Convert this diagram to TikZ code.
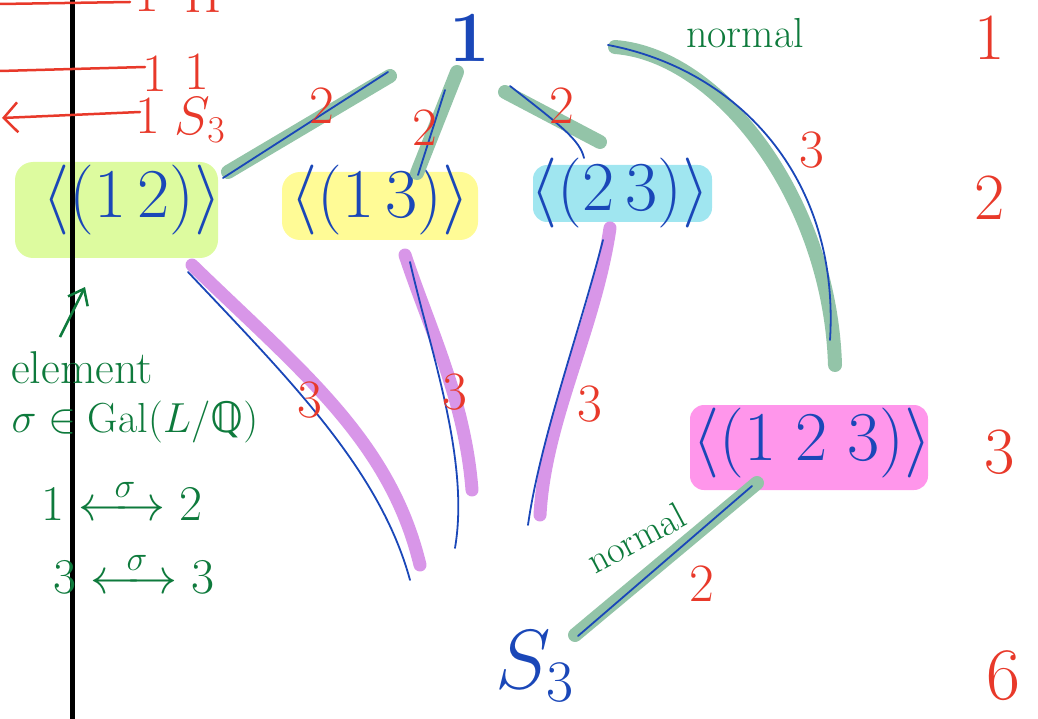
\RequirePackage{fix-cm}
\documentclass[tikz,border=0pt]{standalone}
\usepackage{mathtools}
\usepackage{fontspec}
\newfontfamily\djv{DejaVu Sans}
\usetikzlibrary{arrows.meta}
\definecolor{blueink}{HTML}{1A47B8}
\definecolor{redink}{HTML}{E8392A}
\definecolor{greenink}{HTML}{0E7A3C}
\definecolor{sage}{HTML}{93C4A8}
\definecolor{lilac}{HTML}{D896E8}
\definecolor{limehl}{HTML}{DDFB9F}
\definecolor{yellowhl}{HTML}{FFFB96}
\definecolor{cyanhl}{HTML}{A0E6F0}
\definecolor{pinkhl}{HTML}{FF96EB}
\tikzset{
  grp/.style={text=blueink, font=\fontsize{70}{72}\selectfont, inner sep=0pt},
  hl/.style={line width=14pt, line cap=round, draw=sage},
  hlp/.style={line width=13pt, line cap=round, draw=lilac},
  pen/.style={draw=blueink, line width=1.8pt, line cap=round},
  num/.style={text=redink, font=\fontsize{54}{56}\selectfont, inner sep=0pt},
  bignum/.style={text=redink, font=\fontsize{66}{68}\selectfont, inner sep=0pt},
  note/.style={text=greenink, font=\fontsize{42}{44}\selectfont, inner sep=0pt},
  redline/.style={draw=redink, line width=2.5pt, line cap=round},
  hilite/.style={rounded corners=18pt},
}
\begin{document}
\begin{tikzpicture}[x=1pt,y=-1pt]
\useasboundingbox (0,0) rectangle (1038,719);
% highlight blobs
\fill[limehl, hilite] (15,162) rectangle (218,258);
\fill[yellowhl, hilite] (282,172) rectangle (478,240);
\fill[cyanhl, rounded corners=14pt] (533,165) rectangle (712,222);
\fill[pinkhl, rounded corners=14pt] (690,405) rectangle (928,490);
% black separator
\coordinate (sepT) at (72,0); \coordinate (sepB) at (72,719);
\draw[line width=5pt] (sepT) -- (sepB);
% group nodes
\node[grp, font=\fontsize{72}{72}\selectfont\bfseries] (g1) at (470,38) {1};
\node[grp] (g12) at (132,200) {$\langle(1\,2)\rangle$};
\node[grp] (g13) at (380,200) {$\langle(1\,3)\rangle$};
\node[grp] (g23) at (620,193) {$\langle(2\,3)\rangle$};
\node[grp] (g123) at (812,443) {$\langle(1\;2\;3)\rangle$};
\node[grp, font=\fontsize{84}{86}\selectfont] (gS) at (535,666) {$S_3$};
% connector end points
\coordinate (a1) at (228,172); \coordinate (a2) at (390,76);
\coordinate (b1) at (417,173); \coordinate (b2) at (457,72);
\coordinate (c1) at (505,92);  \coordinate (c2) at (600,142);
\coordinate (d1) at (615,47);  \coordinate (d2) at (835,365);
\coordinate (e1) at (192,265); \coordinate (e2) at (420,565);
\coordinate (f1) at (405,255); \coordinate (f2) at (472,490);
\coordinate (h1) at (610,228); \coordinate (h2) at (540,515);
\coordinate (k1) at (575,635); \coordinate (k2) at (757,483);
% thick highlights
\draw[hl] (a1) -- (a2);
\draw[hl] (b1) -- (b2);
\draw[hl] (c1) -- (c2);
\draw[hl] (d1) .. controls (720,55) and (830,200) .. (d2);
\draw[hlp] (e1) .. controls (300,370) and (390,440) .. (e2);
\draw[hlp] (f1) .. controls (430,330) and (465,400) .. (f2);
\draw[hlp] (h1) .. controls (595,330) and (545,420) .. (h2);
\draw[hl] (k1) -- (k2);
% blue pen lines
\coordinate (pa1) at (223,178); \coordinate (pa2) at (388,72);
\coordinate (pb1) at (418,175); \coordinate (pb2) at (445,90);
\coordinate (pc1) at (510,86);  \coordinate (pc2) at (584,158);
\coordinate (pd1) at (608,45);  \coordinate (pd2) at (830,340);
\coordinate (pe1) at (188,272); \coordinate (pe2) at (410,580);
\coordinate (pf1) at (410,262); \coordinate (pf2) at (455,548);
\coordinate (ph1) at (603,240); \coordinate (ph2) at (528,525);
\coordinate (pk1) at (578,636); \coordinate (pk2) at (752,486);
\draw[pen] (pa1) -- (pa2);
\draw[pen] (pb1) -- (pb2);
\draw[pen] (pc1) .. controls (560,125) and (580,140) .. (pc2);
\draw[pen] (pd1) .. controls (740,70) and (840,180) .. (pd2);
\draw[pen] (pe1) .. controls (290,380) and (380,470) .. (pe2);
\draw[pen] (pf1) .. controls (430,350) and (470,460) .. (pf2);
\draw[pen] (ph1) .. controls (580,330) and (540,440) .. (ph2);
\draw[pen] (pk1) -- (pk2);
% edge labels
\node[num] (l1) at (322,106) {2};
\node[num] (l2) at (425,128) {2};
\node[num] (l3) at (562,106) {2};
\node[num] (l4) at (812,150) {3};
\node[num] (l5) at (310,400) {3};
\node[num] (l6) at (455,392) {3};
\node[num] (l7) at (590,404) {3};
\node[num] (l8) at (702,584) {2};
% normal labels
\node[note] (n1) at (745,33) {normal};
\node[note, rotate=28, font=\fontsize{38}{40}\selectfont] (n2) at (636,538) {normal};
% right column orders
\node[bignum] (o1) at (990,38) {1};
\node[bignum] (o2) at (990,198) {2};
\node[bignum] (o3) at (1000,452) {3};
\node[bignum, font=\fontsize{74}{76}\selectfont] (o6) at (1003,676) {6};
% top-left red table
\coordinate (r1a) at (0,4);   \coordinate (r1b) at (130,2);
\coordinate (r2a) at (0,71);  \coordinate (r2b) at (145,67);
\coordinate (r3a) at (2,118); \coordinate (r3b) at (140,112);
\draw[redline] (r1a) -- (r1b);
\draw[redline] (r2a) -- (r2b);
\draw[redline, {Straight Barb[length=14pt,width=30pt]}-] (r3a) -- (r3b);
\node[num] (t11) at (147,-6) {1};
\node[num] (t12) at (203,-6) {H};
\node[num] (t21) at (155,74) {1};
\node[num] (t22) at (197,72) {1};
\node[num] (t31) at (148,116) {1};
\node[num] (t32) at (200,120) {$S_3$};
% left green notes
\coordinate (up1) at (60,337); \coordinate (up2) at (85,287);
\draw[draw=greenink, line width=2.5pt, -{Straight Barb[length=14pt,width=22pt]}] (up1) -- (up2);
\node[note, font=\fontsize{46}{48}\selectfont] (el) at (82,368) {element};
\node[note] (gal) at (135,422) {$\sigma\in\mathrm{Gal}(L/${\djv ℚ}$)$};
\node[note, font=\fontsize{50}{52}\selectfont] (s1) at (122,500) {$1\xleftrightarrow{\;\;\sigma\;\;}2$};
\node[note, font=\fontsize{50}{52}\selectfont] (s2) at (134,573) {$3\xleftrightarrow{\;\;\sigma\;\;}3$};
\end{tikzpicture}
\end{document}
